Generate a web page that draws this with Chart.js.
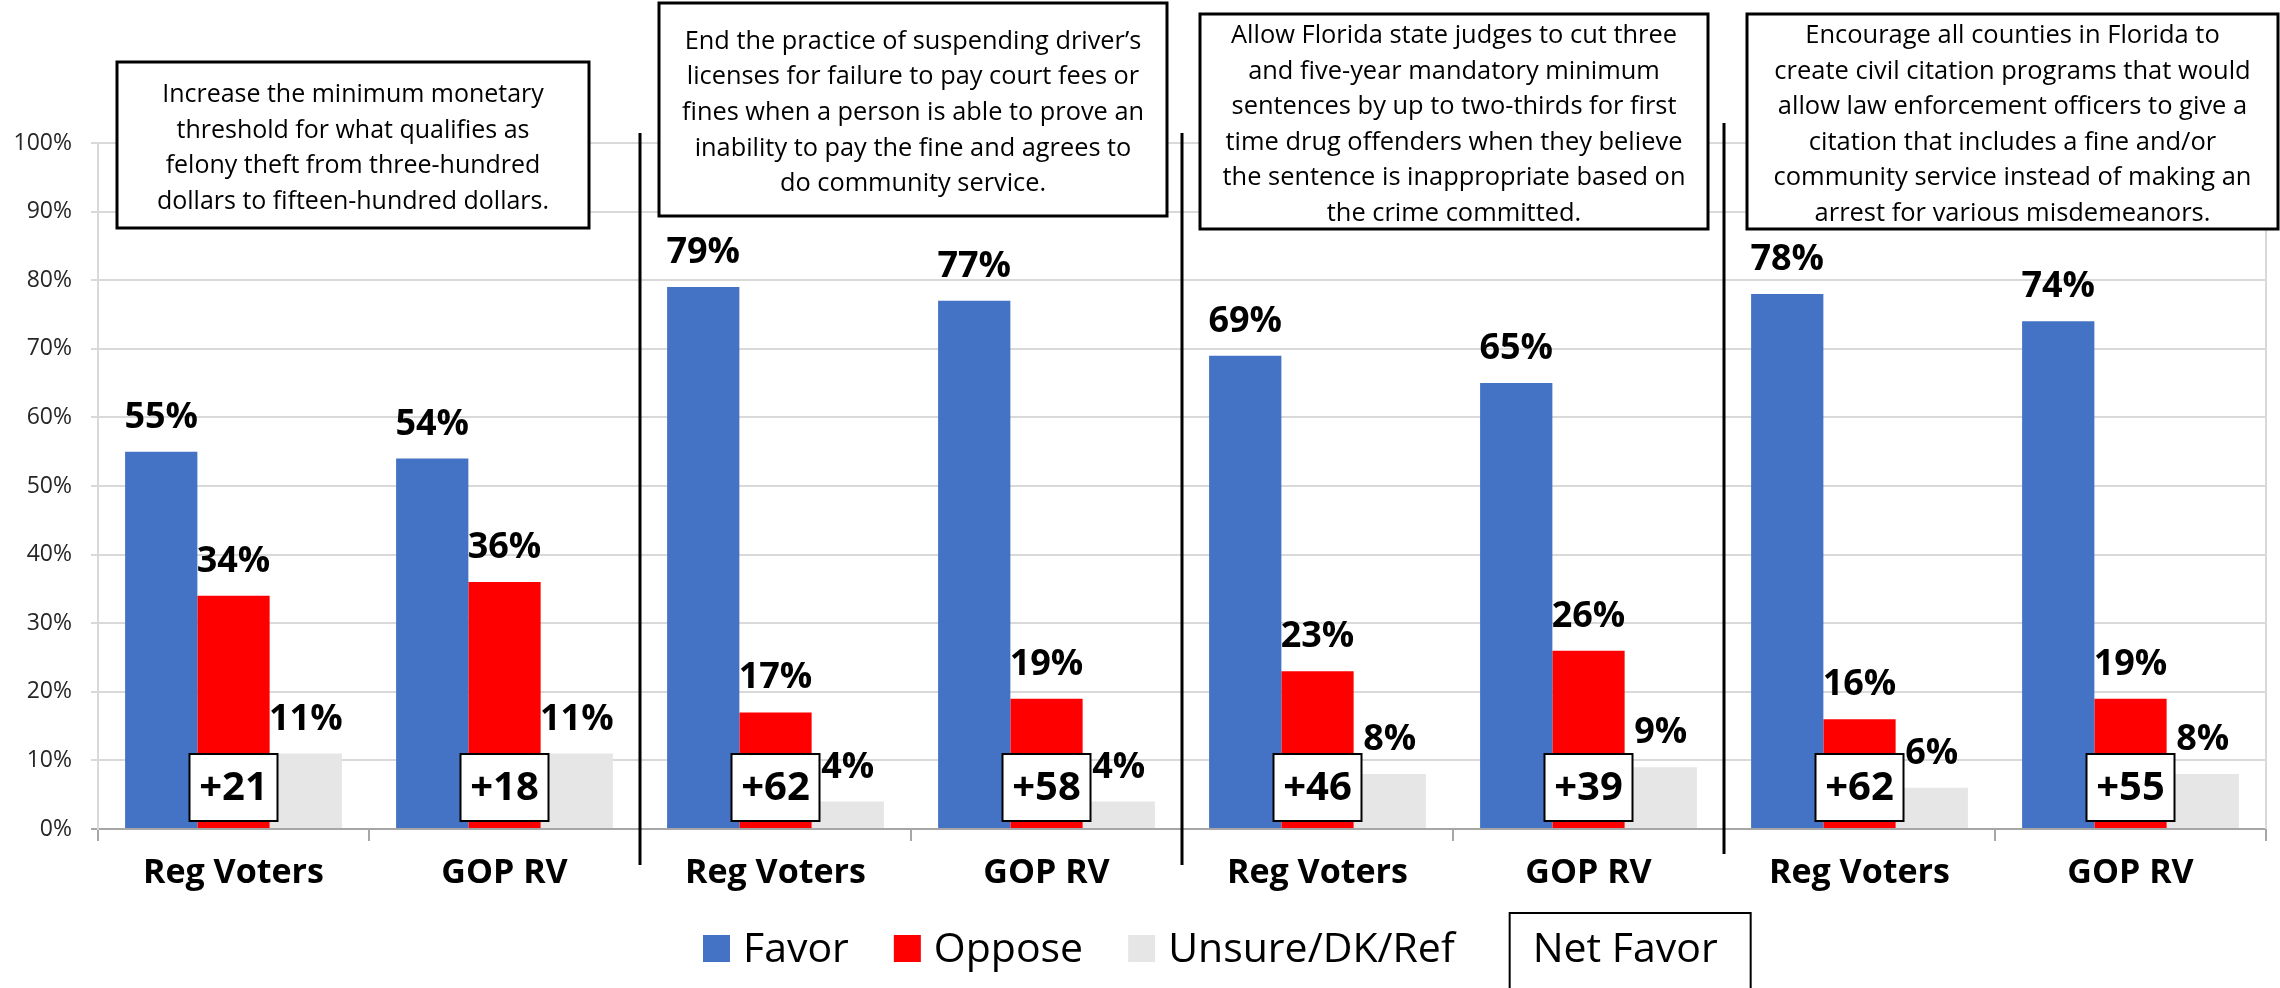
<!DOCTYPE html>
<html>
<head>
<meta charset="utf-8">
<script src="https://cdn.jsdelivr.net/npm/chart.js@4"></script>
<style>
body{margin:0;background:#fff}
</style>
</head>
<body>
<canvas id="chart" width="2280" height="988"></canvas>
<script>
let categories=["Reg Voters","GOP RV","Reg Voters","GOP RV","Reg Voters","GOP RV","Reg Voters","GOP RV"]
let favor=[55,54,79,77,69,65,78,74]
let oppose=[34,36,17,19,23,26,16,19]
let unsure=[11,11,4,4,8,9,6,8]
let netFavor=[21,18,62,58,46,39,62,55]
let yTicks=[0,10,20,30,40,50,60,70,80,90,100]
let questions=[
["Increase the minimum monetary","threshold for what qualifies as","felony theft from three-hundred","dollars to fifteen-hundred dollars."],
["End the practice of suspending driver\u2019s","licenses for failure to pay court fees or","fines when a person is able to prove an","inability to pay the fine and agrees to","do community service."],
["Allow Florida state judges to cut three","and five-year mandatory minimum","sentences by up to two-thirds for first","time drug offenders when they believe","the sentence is inappropriate based on","the crime committed."],
["Encourage all counties in Florida to","create civil citation programs that would","allow law enforcement officers to give a","citation that includes a fine and/or","community service instead of making an","arrest for various misdemeanors."]
]
// question boxes: left, top, width, height, widest text line
let boxRects=[[117,62,472,166,392],[659,3,508,213,462],[1200,14,508,215,463],[1747,14,531,215,478]]
let sepTop=[133,133,123]
let sepBottom=[865,865,854]

Chart.defaults.font.family="'Open Sans', sans-serif"

const overlay={
id:"overlay",
beforeDatasetsDraw(chart){
let ctx=chart.ctx,a=chart.chartArea
ctx.save()
ctx.strokeStyle="#D9D9D9"
ctx.lineWidth=2
ctx.beginPath()
ctx.moveTo(a.right,a.top)
ctx.lineTo(a.right,a.bottom)
ctx.stroke()
ctx.restore()
},
afterDatasetsDraw(chart){
let ctx=chart.ctx,x=chart.scales.x,y=chart.scales.y
ctx.save()
ctx.textAlign="center"
netFavor.forEach((n,i)=>{
let cx=x.getPixelForValue(i)
let bottom=y.getPixelForValue(0)-8
ctx.fillStyle="#fff"
ctx.fillRect(cx-44,bottom-67,88,67)
ctx.strokeStyle="#000"
ctx.lineWidth=2
ctx.strokeRect(cx-44,bottom-67,88,67)
ctx.fillStyle="#000"
ctx.font="bold 40px 'Open Sans'"
ctx.textBaseline="middle"
ctx.fillText("+"+n,cx,bottom-32)
})
ctx.font="bold 36px 'Open Sans'"
ctx.textBaseline="alphabetic"
ctx.fillStyle="#000"
chart.data.datasets.forEach((ds,d)=>{
chart.getDatasetMeta(d).data.forEach((bar,i)=>{
ctx.fillText(ds.data[i]+"%",bar.x,bar.y-24)
})
})
ctx.restore()
},
afterDraw(chart){
let ctx=chart.ctx,x=chart.scales.x
ctx.save()
// separators between questions
ctx.strokeStyle="#000"
ctx.lineWidth=3
;[1,3,5].forEach((i,k)=>{
let sx=(x.getPixelForValue(i)+x.getPixelForValue(i+1))/2
ctx.beginPath()
ctx.moveTo(sx,sepTop[k])
ctx.lineTo(sx,sepBottom[k])
ctx.stroke()
})
// question boxes
ctx.font="26px 'Open Sans'"
ctx.textAlign="center"
ctx.textBaseline="middle"
questions.forEach((lines,q)=>{
let [bx,by,bw,bh,tw]=boxRects[q]
ctx.fillStyle="#fff"
ctx.fillRect(bx,by,bw,bh)
ctx.strokeStyle="#000"
ctx.lineWidth=3
ctx.strokeRect(bx,by,bw,bh)
let widest=Math.max(...lines.map(l=>ctx.measureText(l).width))
let sc=Math.min(1,tw/widest)
let cx=bx+bw/2
let cy=by+bh/2+3
ctx.fillStyle="#000"
lines.forEach((l,j)=>{
let ly=cy+(j-(lines.length-1)/2)*35.6
ctx.save()
ctx.translate(cx,ly)
ctx.scale(sc,1)
ctx.fillText(l,0,0)
ctx.restore()
})
})
// legend
let lx=703,ly=950
ctx.font="41px 'Open Sans'"
ctx.textAlign="left"
chart.data.datasets.forEach(ds=>{
ctx.fillStyle=ds.backgroundColor
ctx.fillRect(lx,935,27,27)
ctx.fillStyle="#000"
ctx.fillText(ds.label,lx+40,ly)
lx+=40+ctx.measureText(ds.label).width+45
})
let w=ctx.measureText("Net Favor").width
ctx.strokeStyle="#000"
ctx.lineWidth=2
ctx.strokeRect(lx+10,913,w+56,90)
ctx.fillText("Net Favor",lx+33,ly)
ctx.restore()
}
}

new Chart(document.getElementById("chart"),{
type:"bar",
data:{
labels:categories,
datasets:[
{label:"Favor",data:favor,backgroundColor:"#4472C4"},
{label:"Oppose",data:oppose,backgroundColor:"#FF0000"},
{label:"Unsure/DK/Ref",data:unsure,backgroundColor:"#E6E6E6"}
]
},
options:{
responsive:false,
animation:false,
layout:{padding:{top:143,right:14,bottom:95,left:0}},
categoryPercentage:0.8,
barPercentage:1,
plugins:{legend:{display:false},tooltip:{enabled:false}},
scales:{
x:{
afterFit(s){s.height=64},
grid:{drawOnChartArea:false,drawTicks:true,tickLength:12,offset:true,color:"#A6A6A6",lineWidth:2},
border:{color:"#A6A6A6",width:2},
ticks:{padding:12,color:"#000",font:{size:34,weight:"bold"}}
},
y:{
min:0,max:100,
afterFit(s){s.width=98},
afterBuildTicks(s){s.ticks=yTicks.map(v=>({value:v}))},
grid:{color:c=>c.tick&&c.tick.value===0?"#A6A6A6":"#D9D9D9",lineWidth:2,tickLength:7},
border:{color:"#D9D9D9",width:2},
ticks:{padding:19,color:"#262626",font:{size:23},callback:v=>v+"%"}
}
}
},
plugins:[overlay]
})
</script>
</body>
</html>
